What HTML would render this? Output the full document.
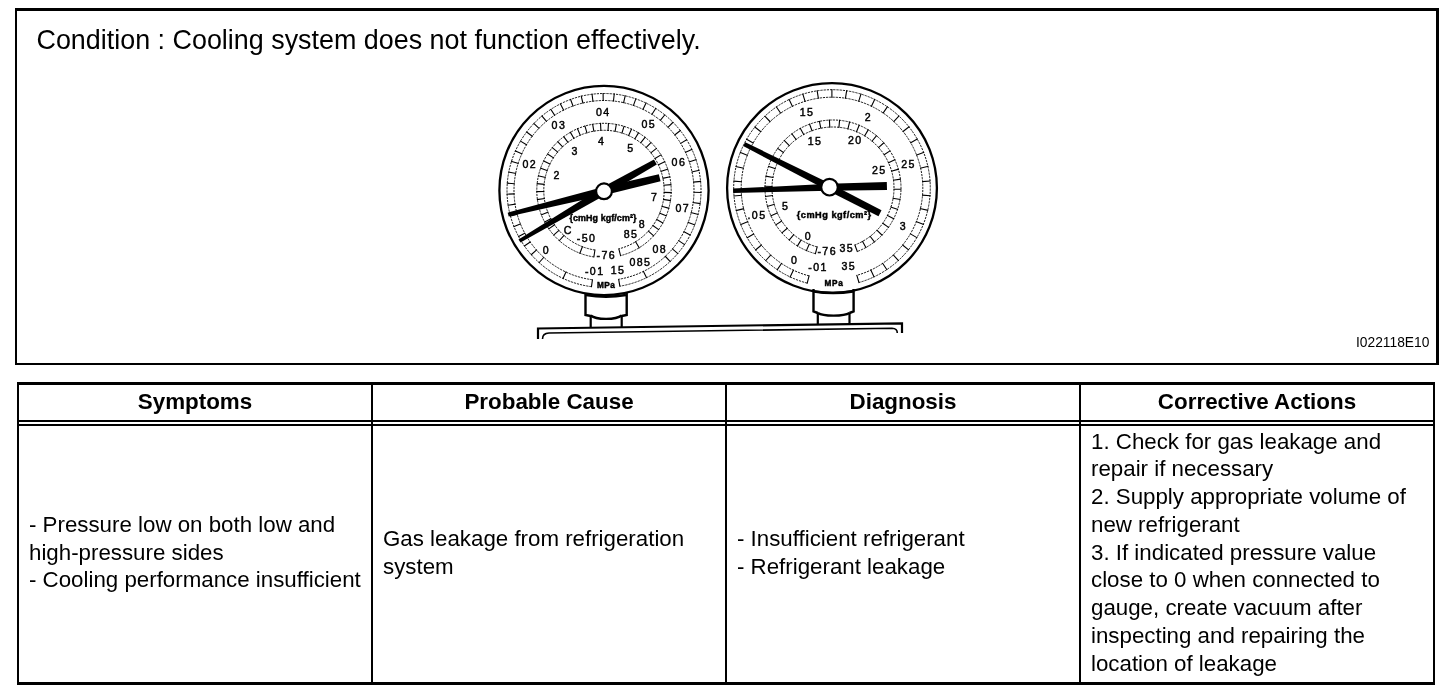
<!DOCTYPE html>
<html><head><meta charset="utf-8"><style>
*{margin:0;padding:0;box-sizing:border-box}
html,body{width:1456px;height:694px;background:#fff;overflow:hidden}
body{position:relative;font-family:"Liberation Sans",sans-serif;color:#000}
.a{position:absolute}
.ln{position:absolute;background:#000}
.t{position:absolute;font-size:22.3px;line-height:27.73px;white-space:nowrap}
.h{position:absolute;font-size:22.4px;font-weight:bold;line-height:25px;text-align:center;white-space:nowrap}
svg text{font-family:"Liberation Sans",sans-serif}
#w{position:absolute;left:0;top:0;width:1456px;height:694px;will-change:transform}
</style></head><body><div id="w">
<div class="ln" style="left:15px;top:8px;width:1424px;height:3px"></div>
<div class="ln" style="left:15px;top:8px;width:2px;height:357px"></div>
<div class="ln" style="left:1436px;top:8px;width:3px;height:357px"></div>
<div class="ln" style="left:15px;top:363px;width:1424px;height:2px"></div>
<div class="a" style="left:36.5px;top:25px;font-size:26.9px;line-height:30px;white-space:nowrap">Condition : Cooling system does not function effectively.</div>
<div class="a" style="left:1356px;top:333.5px;font-size:15px;line-height:16px;white-space:nowrap;transform:scaleX(0.92);transform-origin:0 0">I022118E10</div>
<svg class="a" style="left:0;top:0" width="1456" height="694" viewBox="0 0 1456 694">
<circle cx="604.0" cy="190.5" r="104.6" fill="#fff" stroke="#000" stroke-width="2.3"/>
<path d="M591.51,286.69 A97.00,97.00 0 1 1 619.84,286.20 M592.41,279.75 A90.00,90.00 0 1 1 618.70,279.29" fill="none" stroke="#000" stroke-width="0.90" stroke-dasharray="2.2 1"/>
<path d="M591.4,287.2L592.5,279.3M619.9,286.7L618.6,278.8M562.8,278.9L566.2,271.6M646.7,278.1L643.2,270.9M538.8,263.0L544.1,257.0M530.9,255.0L536.9,249.7M524.0,246.3L530.6,241.7M518.2,236.8L525.2,233.0M513.5,226.7L520.9,223.8M509.9,216.2L517.7,214.1M507.6,205.3L515.5,204.1M506.6,194.2L514.6,193.9M506.8,183.1L514.8,183.7M508.3,172.0L516.1,173.5M511.0,161.2L518.6,163.6M514.9,150.8L522.3,154.1M520.1,140.9L526.9,145.0M526.3,131.7L532.6,136.5M533.5,123.2L539.3,128.7M541.6,115.6L546.7,121.7M550.6,109.0L554.9,115.6M560.2,103.4L563.8,110.5M570.4,99.0L573.2,106.5M581.1,95.7L583.0,103.5M592.0,93.7L593.0,101.7M603.1,93.0L603.2,101.0M614.3,93.5L613.4,101.5M625.3,95.3L623.5,103.2M636.0,98.4L633.3,105.9M646.3,102.6L642.8,109.8M656.0,108.0L651.7,114.8M665.1,114.5L660.1,120.7M673.3,122.0L667.7,127.6M680.7,130.3L674.4,135.3M687.1,139.5L680.3,143.6M692.3,149.3L685.1,152.6M696.5,159.6L688.9,162.1M699.4,170.3L691.6,172.0M701.1,181.4L693.1,182.1M701.5,192.5L693.5,192.3M700.6,203.6L692.7,202.5M698.5,214.5L690.7,212.5M695.1,225.1L687.7,222.3M690.6,235.3L683.5,231.6M684.9,244.9L678.3,240.4M678.2,253.8L672.1,248.6M670.5,261.8L665.0,256.0" fill="none" stroke="#000" stroke-width="1.10"/>
<path d="M593.84,256.93 A67.20,67.20 0 1 1 620.60,255.62 M594.89,250.01 A60.20,60.20 0 1 1 618.87,248.83" fill="none" stroke="#000" stroke-width="0.90" stroke-dasharray="2.2 1"/>
<path d="M593.8,257.4L595.0,249.5M620.7,256.1L618.7,248.4M579.7,253.7L582.6,246.2M639.5,248.2L635.3,241.3M559.0,241.0L564.3,235.1M553.3,235.4L559.3,230.1M548.4,229.1L555.0,224.5M544.2,222.3L551.3,218.5M540.9,215.0L548.4,212.1M538.4,207.4L546.2,205.4M536.9,199.6L544.8,198.5M536.3,191.6L544.3,191.5M536.7,183.6L544.6,184.4M537.9,175.7L545.7,177.5M540.1,168.0L547.7,170.7M543.2,160.7L550.4,164.2M547.2,153.7L553.9,158.1M551.9,147.3L558.1,152.4M557.4,141.4L562.9,147.2M563.5,136.3L568.2,142.7M570.1,131.9L574.1,138.8M577.3,128.3L580.4,135.6M584.8,125.6L587.1,133.3M592.6,123.8L593.9,131.7M600.5,122.9L600.9,130.9M608.5,123.0L608.0,130.9M616.4,124.0L615.0,131.8M624.2,125.9L621.8,133.5M631.7,128.7L628.4,136.0M638.8,132.4L634.6,139.3M645.4,136.9L640.5,143.2M651.4,142.1L645.8,147.9M656.8,148.1L650.5,153.1M661.4,154.6L654.6,158.8M665.2,161.6L658.0,165.0M668.2,169.0L660.6,171.5M670.3,176.7L662.5,178.4M671.4,184.6L663.5,185.3M671.7,192.6L663.7,192.4M670.9,200.6L663.0,199.4M669.3,208.4L661.6,206.3M666.7,216.0L659.3,213.0M663.3,223.2L656.3,219.3M659.0,229.9L652.5,225.3M654.0,236.2L648.1,230.8" fill="none" stroke="#000" stroke-width="1.10"/>
<text x="603.3" y="115.8" font-size="10.6" font-weight="normal" text-anchor="middle" letter-spacing="1.4" stroke="#000" stroke-width="0.45">04</text>
<text x="558.9" y="129.4" font-size="10.6" font-weight="normal" text-anchor="middle" letter-spacing="1.4" stroke="#000" stroke-width="0.45">03</text>
<text x="648.7" y="128.4" font-size="10.6" font-weight="normal" text-anchor="middle" letter-spacing="1.4" stroke="#000" stroke-width="0.45">05</text>
<text x="529.7" y="167.8" font-size="10.6" font-weight="normal" text-anchor="middle" letter-spacing="1.4" stroke="#000" stroke-width="0.45">02</text>
<text x="678.9" y="165.8" font-size="10.6" font-weight="normal" text-anchor="middle" letter-spacing="1.4" stroke="#000" stroke-width="0.45">06</text>
<text x="682.8" y="211.6" font-size="10.6" font-weight="normal" text-anchor="middle" letter-spacing="1.4" stroke="#000" stroke-width="0.45">07</text>
<text x="659.7" y="253.2" font-size="10.6" font-weight="normal" text-anchor="middle" letter-spacing="1.4" stroke="#000" stroke-width="0.45">08</text>
<text x="546.5" y="253.5" font-size="10.6" font-weight="normal" text-anchor="middle" letter-spacing="1.4" stroke="#000" stroke-width="0.45">0</text>
<text x="640.4" y="266.4" font-size="10.6" font-weight="normal" text-anchor="middle" letter-spacing="1.4" stroke="#000" stroke-width="0.45">085</text>
<text x="594.7" y="274.8" font-size="10.6" font-weight="normal" text-anchor="middle" letter-spacing="1.4" stroke="#000" stroke-width="0.45">-01</text>
<text x="618.1" y="274.4" font-size="10.6" font-weight="normal" text-anchor="middle" letter-spacing="1.4" stroke="#000" stroke-width="0.45">15</text>
<text x="601.7" y="144.8" font-size="10.6" font-weight="normal" text-anchor="middle" letter-spacing="1.4" stroke="#000" stroke-width="0.45">4</text>
<text x="575.2" y="155.1" font-size="10.6" font-weight="normal" text-anchor="middle" letter-spacing="1.4" stroke="#000" stroke-width="0.45">3</text>
<text x="631.0" y="151.8" font-size="10.6" font-weight="normal" text-anchor="middle" letter-spacing="1.4" stroke="#000" stroke-width="0.45">5</text>
<text x="557.1" y="178.7" font-size="10.6" font-weight="normal" text-anchor="middle" letter-spacing="1.4" stroke="#000" stroke-width="0.45">2</text>
<text x="654.7" y="201.4" font-size="10.6" font-weight="normal" text-anchor="middle" letter-spacing="1.4" stroke="#000" stroke-width="0.45">7</text>
<text x="642.5" y="228.2" font-size="10.6" font-weight="normal" text-anchor="middle" letter-spacing="1.4" stroke="#000" stroke-width="0.45">8</text>
<text x="631.0" y="237.7" font-size="10.6" font-weight="normal" text-anchor="middle" letter-spacing="1.4" stroke="#000" stroke-width="0.45">85</text>
<text x="568.4" y="234.3" font-size="10.6" font-weight="normal" text-anchor="middle" letter-spacing="1.4" stroke="#000" stroke-width="0.45">C</text>
<text x="586.6" y="242.2" font-size="10.6" font-weight="normal" text-anchor="middle" letter-spacing="1.4" stroke="#000" stroke-width="0.45">-50</text>
<text x="606.3" y="258.8" font-size="10.6" font-weight="normal" text-anchor="middle" letter-spacing="1.4" stroke="#000" stroke-width="0.45">-76</text>
<text x="603.0" y="220.6" font-size="8.9" font-weight="bold" text-anchor="middle" letter-spacing="0.1" stroke="#000" stroke-width="0.45">{cmHg kgf/cm²}</text>
<text x="606.2" y="287.9" font-size="8.2" font-weight="bold" text-anchor="middle" letter-spacing="0.5" stroke="#000" stroke-width="0.45">MPa</text>
<polygon points="508.7,216.5 604.9,194.9 660.6,181.2 658.8,174.2 603.1,187.1 507.7,212.7" fill="#000"/>
<polygon points="520.5,242.6 606.1,194.5 656.8,164.4 654.0,159.6 601.9,187.5 518.5,239.4" fill="#000"/>
<circle cx="604" cy="191.3" r="7.9" fill="#fff" stroke="#000" stroke-width="2.2"/>
<circle cx="832.0" cy="188.0" r="104.9" fill="#fff" stroke="#000" stroke-width="2.3"/>
<path d="M807.22,283.13 A98.30,98.30 0 1 1 858.93,282.54 M809.11,275.87 A90.80,90.80 0 1 1 856.88,275.33" fill="none" stroke="#000" stroke-width="0.90" stroke-dasharray="2.2 1"/>
<path d="M807.1,283.6L809.2,275.4M859.1,283.0L856.7,274.8M789.9,277.4L793.6,269.7M777.0,270.1L781.8,263.0M765.4,261.0L771.1,254.7M755.2,250.2L761.8,244.8M746.8,238.0L754.1,233.7M740.3,224.7L748.2,221.6M735.8,210.6L744.1,208.6M733.5,196.0L742.0,195.3M733.4,181.1L741.9,181.7M735.6,166.5L743.9,168.3M739.9,152.3L747.8,155.4M746.2,138.9L753.6,143.2M754.5,126.7L761.2,132.0M764.6,115.8L770.4,122.0M776.1,106.5L780.9,113.5M788.9,99.1L792.6,106.7M802.7,93.6L805.2,101.8M817.1,90.3L818.4,98.7M831.9,89.2L831.9,97.7M846.7,90.3L845.4,98.7M861.1,93.6L858.6,101.7M874.9,99.0L871.2,106.7M887.7,106.4L882.9,113.4M899.3,115.7L893.5,121.9M909.4,126.5L902.7,131.8M917.7,138.8L910.3,143.0M924.1,152.2L916.1,155.2M928.4,166.3L920.1,168.2M930.5,181.0L922.1,181.6M930.5,195.8L922.0,195.1M928.2,210.4L919.9,208.5M923.8,224.6L915.9,221.4M917.3,237.9L910.0,233.6M908.9,250.1L902.3,244.7M898.7,260.8L893.0,254.6M887.1,270.0L882.4,263.0M874.2,277.3L870.6,269.6" fill="none" stroke="#000" stroke-width="1.10"/>
<path d="M815.40,253.68 A68.00,68.00 0 1 1 857.37,251.48 M817.21,246.92 A61.00,61.00 0 1 1 854.86,244.95" fill="none" stroke="#000" stroke-width="0.90" stroke-dasharray="2.2 1"/>
<path d="M815.3,254.2L817.3,246.4M857.5,252.0L854.7,244.5M806.2,251.1L809.4,243.7M797.2,246.4L801.3,239.6M788.9,240.4L794.0,234.3M781.6,233.2L787.6,228.0M775.4,225.1L782.1,220.8M770.5,216.1L777.8,212.8M767.0,206.5L774.7,204.3M765.0,196.5L773.0,195.5M764.5,186.3L772.5,186.5M765.5,176.1L773.4,177.5M768.1,166.2L775.6,168.7M772.0,156.8L779.1,160.4M777.3,148.1L783.8,152.7M783.9,140.2L789.6,145.8M791.6,133.5L796.4,139.8M800.1,127.9L804.0,134.9M809.4,123.7L812.2,131.2M819.3,120.9L820.9,128.7M829.4,119.6L829.8,127.6M839.6,119.8L838.9,127.8M849.7,121.6L847.8,129.3M859.4,124.8L856.3,132.2M868.5,129.4L864.4,136.3M876.8,135.4L871.7,141.5M884.2,142.5L878.2,147.8M890.4,150.6L883.7,155.0M895.3,159.5L888.0,162.9M898.8,169.1L891.2,171.3M900.9,179.1L893.0,180.2M901.5,189.3L893.5,189.2M900.5,199.5L892.6,198.2M898.1,209.4L890.5,206.9M894.2,218.9L887.0,215.3M888.9,227.6L882.4,223.0M882.4,235.5L876.6,229.9M874.8,242.3L869.9,236.0M866.2,247.9L862.3,240.9" fill="none" stroke="#000" stroke-width="1.10"/>
<text x="807.1" y="115.8" font-size="10.6" font-weight="normal" text-anchor="middle" letter-spacing="1.4" stroke="#000" stroke-width="0.45">15</text>
<text x="868.5" y="120.8" font-size="10.6" font-weight="normal" text-anchor="middle" letter-spacing="1.4" stroke="#000" stroke-width="0.45">2</text>
<text x="908.6" y="167.8" font-size="10.6" font-weight="normal" text-anchor="middle" letter-spacing="1.4" stroke="#000" stroke-width="0.45">25</text>
<text x="903.4" y="230.0" font-size="10.6" font-weight="normal" text-anchor="middle" letter-spacing="1.4" stroke="#000" stroke-width="0.45">3</text>
<text x="757.0" y="219.3" font-size="10.6" font-weight="normal" text-anchor="middle" letter-spacing="1.4" stroke="#000" stroke-width="0.45">.05</text>
<text x="794.7" y="264.1" font-size="10.6" font-weight="normal" text-anchor="middle" letter-spacing="1.4" stroke="#000" stroke-width="0.45">0</text>
<text x="818.0" y="270.5" font-size="10.6" font-weight="normal" text-anchor="middle" letter-spacing="1.4" stroke="#000" stroke-width="0.45">-01</text>
<text x="848.7" y="270.0" font-size="10.6" font-weight="normal" text-anchor="middle" letter-spacing="1.4" stroke="#000" stroke-width="0.45">35</text>
<text x="815.1" y="144.7" font-size="10.6" font-weight="normal" text-anchor="middle" letter-spacing="1.4" stroke="#000" stroke-width="0.45">15</text>
<text x="855.2" y="144.3" font-size="10.6" font-weight="normal" text-anchor="middle" letter-spacing="1.4" stroke="#000" stroke-width="0.45">20</text>
<text x="879.3" y="173.5" font-size="10.6" font-weight="normal" text-anchor="middle" letter-spacing="1.4" stroke="#000" stroke-width="0.45">25</text>
<text x="785.7" y="209.8" font-size="10.6" font-weight="normal" text-anchor="middle" letter-spacing="1.4" stroke="#000" stroke-width="0.45">5</text>
<text x="808.5" y="239.5" font-size="10.6" font-weight="normal" text-anchor="middle" letter-spacing="1.4" stroke="#000" stroke-width="0.45">0</text>
<text x="827.2" y="255.0" font-size="10.6" font-weight="normal" text-anchor="middle" letter-spacing="1.4" stroke="#000" stroke-width="0.45">-76</text>
<text x="846.7" y="252.2" font-size="10.6" font-weight="normal" text-anchor="middle" letter-spacing="1.4" stroke="#000" stroke-width="0.45">35</text>
<text x="834.2" y="218.4" font-size="9.2" font-weight="bold" text-anchor="middle" letter-spacing="0.5" stroke="#000" stroke-width="0.45">{cmHg kgf/cm²}</text>
<text x="834.1" y="285.9" font-size="8.2" font-weight="bold" text-anchor="middle" letter-spacing="0.8" stroke="#000" stroke-width="0.45">MPa</text>
<polygon points="743.2,146.0 827.6,190.6 878.5,216.3 881.5,210.3 831.0,184.0 745.2,142.2" fill="#000"/>
<polygon points="733.2,193.0 829.6,190.7 887.0,190.0 886.8,182.0 829.4,183.7 733.0,188.6" fill="#000"/>
<circle cx="829.5" cy="187.2" r="8.3" fill="#fff" stroke="#000" stroke-width="2.2"/>
<path d="M585.5,293 L585.5,315 L590.7,316 M626.7,293 L626.7,315 L621.7,316 M590.7,315.5 C596,320 616,320 621.7,315.5" fill="none" stroke="#000" stroke-width="2.4"/>
<path d="M590.7,315.5 L590.7,328 M621.7,315.5 L621.7,327.5" fill="none" stroke="#000" stroke-width="2.2"/>
<path d="M586,295 Q606,298.5 626,295" fill="none" stroke="#000" stroke-width="2.6"/>
<path d="M813.5,289 L813.5,311.5 L817.8,313 M853.6,289 L853.6,311.5 L849.5,313 M817.8,313 C823,316.5 844,316.5 849.5,313" fill="none" stroke="#000" stroke-width="2.4"/>
<path d="M817.8,313 L817.8,324 M849.5,313 L849.5,323.5" fill="none" stroke="#000" stroke-width="2.2"/>
<path d="M814,291.5 Q833,294.5 853,291.5" fill="none" stroke="#000" stroke-width="2.6"/>
<path d="M538,339 L538,328.5 L902,323.3 L902,333" fill="none" stroke="#000" stroke-width="2.2"/>
<path d="M542.5,339 Q542.5,333.2 549,333 L892,328.3 Q897.3,328.5 897.3,333" fill="none" stroke="#000" stroke-width="1.6"/>
</svg>
<div class="ln" style="left:17px;top:382px;width:1418px;height:3px"></div>
<div class="ln" style="left:17px;top:682px;width:1418px;height:3px"></div>
<div class="ln" style="left:17px;top:382px;width:2px;height:303px"></div>
<div class="ln" style="left:1433px;top:382px;width:2px;height:303px"></div>
<div class="ln" style="left:371px;top:382px;width:2px;height:303px"></div>
<div class="ln" style="left:725px;top:382px;width:2px;height:303px"></div>
<div class="ln" style="left:1079px;top:382px;width:2px;height:303px"></div>
<div class="ln" style="left:17px;top:420px;width:1418px;height:2px"></div>
<div class="ln" style="left:17px;top:424px;width:1418px;height:2px"></div>
<div class="h" style="left:19px;top:389px;width:352px">Symptoms</div>
<div class="h" style="left:373px;top:389px;width:352px">Probable Cause</div>
<div class="h" style="left:727px;top:389px;width:352px">Diagnosis</div>
<div class="h" style="left:1081px;top:389px;width:352px">Corrective Actions</div>
<div class="t" style="left:29px;top:510.90px">- Pressure low on both low and<br>high-pressure sides<br>- Cooling performance insufficient</div>
<div class="t" style="left:383px;top:524.77px">Gas leakage from refrigeration<br>system</div>
<div class="t" style="left:737px;top:524.77px">- Insufficient refrigerant<br>- Refrigerant leakage</div>
<div class="t" style="left:1091px;top:427.72px">1. Check for gas leakage and<br>repair if necessary<br>2. Supply appropriate volume of<br>new refrigerant<br>3. If indicated pressure value<br>close to 0 when connected to<br>gauge, create vacuum after<br>inspecting and repairing the<br>location of leakage</div>
</div></body></html>
